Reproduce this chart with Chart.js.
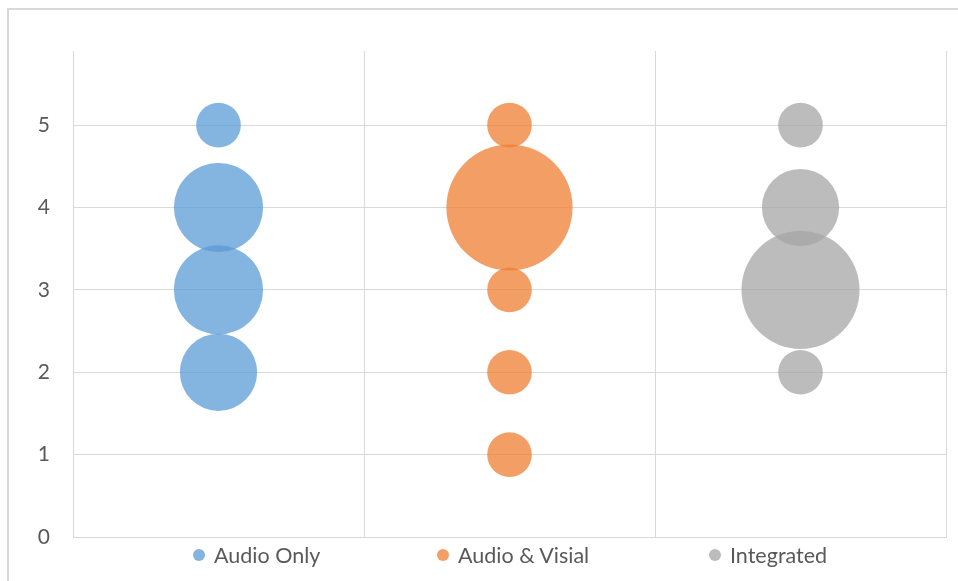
<!DOCTYPE html>
<html>
<head>
<meta charset="utf-8">
<title>Bubble chart</title>
<script src="https://cdn.jsdelivr.net/npm/chart.js@4"></script>
<style>
  html, body { margin: 0; padding: 0; background: #ffffff; }
  #wrap { position: relative; width: 958px; height: 581px; overflow: hidden; }
  #frame { position: absolute; left: 7px; top: 8px; width: 1000px; height: 700px;
           border-left: 2px solid #d9d9d9; border-top: 2px solid #d9d9d9; box-sizing: border-box; }
  #chartBox { position: absolute; left: 0; top: 0; width: 958px; height: 581px; }
  .legend-item { position: absolute; top: 541px; height: 28px; display: flex; align-items: center;
                 font-family: Lato, "Liberation Sans", sans-serif; font-size: 21.5px; color: #595959; white-space: nowrap; }
  .legend-dot { width: 12px; height: 12px; border-radius: 50%; margin-right: 9px; }
</style>
</head>
<body>
<div id="wrap">
  <div id="frame"></div>
  <div id="chartBox"><canvas id="chart"></canvas></div>
</div>
<script>
// Series names and colours
const seriesNames = ['Audio Only', 'Audio & Visial', 'Integrated'];
const seriesColors = ['rgba(91,155,213,0.75)', 'rgba(237,125,49,0.75)', 'rgba(165,165,165,0.75)'];

// Each group sits in the middle of its column on the x axis
const groupX = [0.5, 1.5, 2.5];

// Rating levels (y) and how many responses gave each rating (bubble size)
const audioOnlyY      = [5, 4, 3, 2];
const audioOnlyCount  = [1, 4, 4, 3];

const audioVisualY     = [5, 4, 3, 2, 1];
const audioVisualCount = [1, 8, 1, 1, 1];

const integratedY     = [5, 4, 3, 2];
const integratedCount = [1, 3, 7, 1];

// Y axis tick values
const yTicks = [0, 1, 2, 3, 4, 5];

// Bubble area is proportional to the count
const RADIUS_UNIT = 22.3;

function toBubbles(x, ys, counts) {
  return ys.map((y, i) => ({ x: x, y: y, r: RADIUS_UNIT * Math.sqrt(counts[i]) }));
}

const groups = [
  [audioOnlyY, audioOnlyCount],
  [audioVisualY, audioVisualCount],
  [integratedY, integratedCount]
];

const datasets = groups.map((g, i) => ({
  label: seriesNames[i],
  data: toBubbles(groupX[i], g[0], g[1]),
  backgroundColor: seriesColors[i],
  borderWidth: 0,
  hoverBorderWidth: 0
}));

const gridColor = '#d9d9d9';
const textColor = '#595959';
const fontFamily = 'Lato, "Liberation Sans", sans-serif';

new Chart(document.getElementById('chart'), {
  type: 'bubble',
  data: { datasets: datasets },
  options: {
    responsive: true,
    maintainAspectRatio: false,
    animation: false,
    layout: { autoPadding: false, padding: { left: 0, right: 12, top: 51, bottom: 44 } },
    plugins: { legend: { display: false }, tooltip: { enabled: false } },
    scales: {
      x: {
        type: 'linear',
        min: 0,
        max: 3,
        ticks: { display: false, stepSize: 1 },
        grid: { color: gridColor, lineWidth: 1, drawTicks: false },
        border: { color: gridColor, width: 1 },
        afterFit: s => { s.height = 0; }
      },
      y: {
        type: 'linear',
        min: 0,
        max: 5.9,
        afterBuildTicks: s => { s.ticks = yTicks.map(v => ({ value: v })); },
        ticks: { stepSize: 1, includeBounds: false, padding: 23, color: textColor,
                 font: { family: fontFamily, size: 21 } },
        grid: { color: gridColor, lineWidth: 1, drawTicks: false },
        border: { color: gridColor, width: 1 },
        afterFit: s => { s.width = 73; }
      }
    }
  }
});

// Legend entries along the bottom
const legendLeft = [193, 437, 709];
const wrap = document.getElementById('wrap');
seriesNames.forEach((name, i) => {
  const item = document.createElement('div');
  item.className = 'legend-item';
  item.style.left = legendLeft[i] + 'px';
  const dot = document.createElement('span');
  dot.className = 'legend-dot';
  dot.style.background = seriesColors[i];
  const label = document.createElement('span');
  label.textContent = name;
  item.appendChild(dot);
  item.appendChild(label);
  wrap.appendChild(item);
});
</script>
</body>
</html>
